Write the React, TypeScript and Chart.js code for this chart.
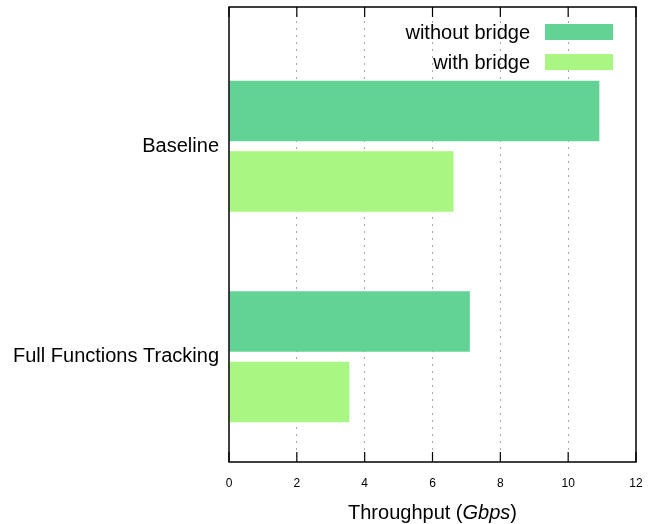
import React, { useEffect, useRef } from "react";
import { Chart, registerables } from "chart.js";

Chart.register(...registerables);

const categories = ["Baseline", "Full Functions Tracking"];
const withoutBridge = [10.92, 7.1];
const withBridge = [6.62, 3.55];
const seriesNames = ["without bridge", "with bridge"];
const seriesColors = ["#62D394", "#A9F683"];
const xTicks = [0, 2, 4, 6, 8, 10, 12];

const FONT = "'Liberation Sans', Arial, sans-serif";

const framePlugin = {
  id: "frame",
  afterDraw(chart: any) {
    const { ctx, chartArea } = chart;
    const { left, right, top, bottom } = chartArea;
    const xs = chart.scales.x;
    ctx.save();
    ctx.strokeStyle = "#000";
    ctx.lineWidth = 1.2;
    ctx.beginPath();
    xTicks.forEach((v) => {
      const px = xs.getPixelForValue(v);
      ctx.moveTo(px, bottom);
      ctx.lineTo(px, bottom - 10);
      ctx.moveTo(px, top);
      ctx.lineTo(px, top + 10);
    });
    ctx.stroke();
    ctx.lineWidth = 1.5;
    ctx.strokeRect(left, top, right - left, bottom - top);
    // legend
    ctx.font = `20px ${FONT}`;
    ctx.textAlign = "right";
    ctx.textBaseline = "middle";
    ctx.fillStyle = "#000";
    seriesNames.forEach((name, i) => {
      const cy = 32 + i * 30;
      ctx.fillText(name, 530, cy + 1);
      ctx.fillStyle = seriesColors[i];
      ctx.fillRect(545, cy - 8, 68, 16);
      ctx.fillStyle = "#000";
    });
    // x title with italic unit
    const parts = [
      { t: "Throughput (", f: `20px ${FONT}` },
      { t: "Gbps", f: `italic 20px ${FONT}` },
      { t: ")", f: `20px ${FONT}` },
    ];
    let total = 0;
    parts.forEach((p) => {
      ctx.font = p.f;
      total += ctx.measureText(p.t).width;
    });
    let x = (left + right) / 2 - total / 2;
    ctx.textAlign = "left";
    ctx.textBaseline = "middle";
    parts.forEach((p) => {
      ctx.font = p.f;
      ctx.fillText(p.t, x, 513);
      x += ctx.measureText(p.t).width;
    });
    ctx.restore();
  },
};

export default function App() {
  const ref = useRef<HTMLCanvasElement>(null);
  useEffect(() => {
    if (!ref.current) return;
    const chart = new Chart(ref.current, {
      type: "bar",
      data: {
        datasets: [
          {
            label: seriesNames[0],
            data: withoutBridge.map((v, i) => ({ x: v, y: i })),
            backgroundColor: seriesColors[0],
            barPercentage: 0.858,
            categoryPercentage: 0.67,
          },
          {
            label: seriesNames[1],
            data: withBridge.map((v, i) => ({ x: v, y: i })),
            backgroundColor: seriesColors[1],
            barPercentage: 0.858,
            categoryPercentage: 0.67,
          },
        ],
      },
      options: {
        indexAxis: "y",
        animation: false,
        responsive: false,
        maintainAspectRatio: false,
        layout: { padding: { top: 7, right: 16, left: 0, bottom: 0 } },
        plugins: { legend: { display: false }, tooltip: { enabled: false } },
        scales: {
          x: {
            type: "linear",
            min: 0,
            max: 12,
            afterBuildTicks: (s: any) => {
              s.ticks = xTicks.map((v) => ({ value: v }));
            },
            afterFit: (s: any) => {
              s.height = 62;
              s.paddingLeft = 0;
              s.paddingRight = 0;
            },
            ticks: {
              color: "#000",
              font: { family: FONT, size: 12 },
              padding: 14,
            },
            grid: {
              drawTicks: false,
              color: (c: any) =>
                c.tick && (c.tick.value === 0 || c.tick.value === 12) ? "rgba(0,0,0,0)" : "#aaa",
              lineWidth: 1,
            },
            border: { display: false, dash: [2, 5] },
          },
          y: {
            type: "linear",
            reverse: true,
            offset: false,
            min: -0.662,
            max: 1.5,
            afterBuildTicks: (s: any) => {
              s.ticks = categories.map((_, i) => ({ value: i }));
            },
            afterFit: (s: any) => {
              s.width = 229;
              s.paddingTop = 0;
              s.paddingBottom = 0;
            },
            ticks: {
              color: "#000",
              font: { family: FONT, size: 20 },
              padding: 10,
              callback: (v: any) => categories[v as number] ?? "",
            },
            grid: { display: false, drawTicks: false },
            border: { display: false },
          },
        },
      },
      plugins: [framePlugin],
    } as any);
    return () => chart.destroy();
  }, []);
  return (
    <div style={{ position: "fixed", left: 0, top: 0, width: 652, height: 524, background: "#fff" }}>
      <canvas ref={ref} width={652} height={524} style={{ width: 652, height: 524 }} />
    </div>
  );
}
